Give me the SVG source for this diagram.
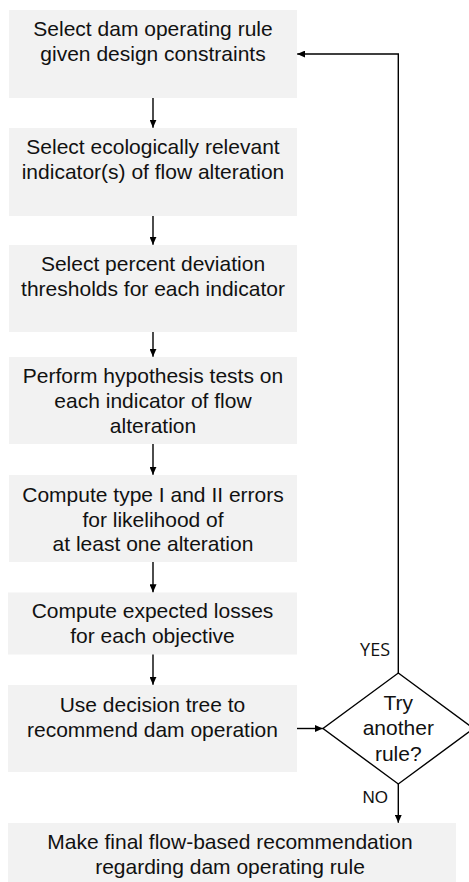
<svg xmlns="http://www.w3.org/2000/svg" width="469" height="882" viewBox="0 0 469 882">
<defs>
<style>
.box{fill:#f2f2f2;stroke:none}
.t{font-family:"Liberation Sans",Arial,Helvetica,sans-serif;font-size:21px;fill:#111;text-anchor:middle}
.lbl{font-family:"Open Sans","Liberation Sans",sans-serif;font-size:18px;fill:#111}
.lbl2{font-family:"Liberation Sans",Arial,sans-serif;font-size:17px;fill:#111}
.c{fill:none;stroke:#000;stroke-width:1.4}
.d{fill:#fff;stroke:#000;stroke-width:1.4}
</style>
<marker id="ah" markerWidth="8" markerHeight="7" refX="8" refY="3.5" orient="auto" markerUnits="userSpaceOnUse">
<path d="M0,0 L8,3.5 L0,7 z" fill="#000"/>
</marker>
</defs>
<rect width="469" height="882" fill="#fff"/>
<g id="n1"><rect class="box" x="9" y="10" width="288" height="88"/>
<text class="t" x="153" y="36">Select dam operating rule</text>
<text class="t" x="153" y="61">given design constraints</text></g>
<g id="n2"><rect class="box" x="9" y="128" width="288" height="88"/>
<text class="t" x="153" y="154">Select ecologically relevant</text>
<text class="t" x="153" y="179">indicator(s) of flow alteration</text></g>
<g id="n3"><rect class="box" x="9" y="245" width="288" height="87"/>
<text class="t" x="153" y="270.5">Select percent deviation</text>
<text class="t" x="153" y="295.5">thresholds for each indicator</text></g>
<g id="n4"><rect class="box" x="9" y="357" width="288" height="87"/>
<text class="t" x="153" y="383">Perform hypothesis tests on</text>
<text class="t" x="153" y="408">each indicator of flow</text>
<text class="t" x="153" y="433">alteration</text></g>
<g id="n5"><rect class="box" x="9" y="475" width="288" height="87"/>
<text class="t" x="153" y="501.5">Compute type I and II errors</text>
<text class="t" x="153" y="526.5">for likelihood of</text>
<text class="t" x="153" y="551">at least one alteration</text></g>
<g id="n6"><rect class="box" x="8" y="592.5" width="289" height="62"/>
<text class="t" x="152.5" y="618">Compute expected losses</text>
<text class="t" x="152.5" y="643">for each objective</text></g>
<g id="n7"><rect class="box" x="8" y="685" width="289" height="87"/>
<text class="t" x="152.5" y="712">Use decision tree to</text>
<text class="t" x="152.5" y="737">recommend dam operation</text></g>
<g id="n8"><rect class="box" x="8" y="823" width="448" height="60"/>
<text class="t" x="230" y="849">Make final flow-based recommendation</text>
<text class="t" x="230" y="874">regarding dam operating rule</text></g>
<g id="decision"><polygon class="d" points="398.3,673 473.6,728.5 398.3,784 323,728.5"/>
<text class="t" x="398.3" y="709.5">Try</text>
<text class="t" x="398.3" y="735">another</text>
<text class="t" x="398.3" y="760.5">rule?</text></g>
<g id="connectors">
<line class="c" x1="153" y1="98" x2="153" y2="127.7" marker-end="url(#ah)"/>
<line class="c" x1="153" y1="216" x2="153" y2="244.8" marker-end="url(#ah)"/>
<line class="c" x1="153" y1="332" x2="153" y2="356.8" marker-end="url(#ah)"/>
<line class="c" x1="153" y1="444" x2="153" y2="474.8" marker-end="url(#ah)"/>
<line class="c" x1="153" y1="562" x2="153" y2="592.3" marker-end="url(#ah)"/>
<line class="c" x1="153" y1="654.5" x2="153" y2="684.8" marker-end="url(#ah)"/>
<line class="c" x1="297" y1="728.5" x2="322.8" y2="728.5" marker-end="url(#ah)"/>
<polyline class="c" points="398.3,673 398.3,54 297.2,54" marker-end="url(#ah)"/>
<line class="c" x1="398.3" y1="784" x2="398.3" y2="822.8" marker-end="url(#ah)"/>
<text class="lbl" x="390" y="656" text-anchor="end">YES</text>
<text class="lbl2" x="388" y="803" text-anchor="end">NO</text>
</g>
</svg>
